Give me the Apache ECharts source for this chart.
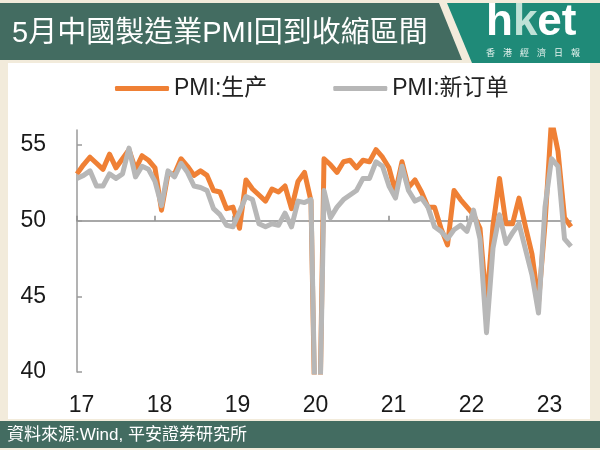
<!DOCTYPE html>
<html><head><meta charset="utf-8">
<script src="https://cdn.jsdelivr.net/npm/echarts@6/dist/echarts.min.js"></script>
<style>html,body{margin:0;padding:0;background:#f2ebdb}#c{width:600px;height:450px}</style>
</head><body><div id="c"></div>
<script>
const months = [
 '2017-01','2017-02','2017-03','2017-04','2017-05','2017-06','2017-07','2017-08','2017-09','2017-10','2017-11','2017-12',
 '2018-01','2018-02','2018-03','2018-04','2018-05','2018-06','2018-07','2018-08','2018-09','2018-10','2018-11','2018-12',
 '2019-01','2019-02','2019-03','2019-04','2019-05','2019-06','2019-07','2019-08','2019-09','2019-10','2019-11','2019-12',
 '2020-01','2020-02','2020-03','2020-04','2020-05','2020-06','2020-07','2020-08','2020-09','2020-10','2020-11','2020-12',
 '2021-01','2021-02','2021-03','2021-04','2021-05','2021-06','2021-07','2021-08','2021-09','2021-10','2021-11','2021-12',
 '2022-01','2022-02','2022-03','2022-04','2022-05','2022-06','2022-07','2022-08','2022-09','2022-10','2022-11','2022-12',
 '2023-01','2023-02','2023-03','2023-04','2023-05'
];
const production = [
 53.1,53.7,54.2,53.8,53.4,54.4,53.5,54.1,54.7,53.4,54.3,54.0,
 53.5,50.7,53.1,53.1,54.1,53.6,53.0,53.3,53.0,52.0,51.9,50.8,
 50.9,49.5,52.7,52.1,51.7,51.3,52.1,51.9,52.3,50.8,52.6,53.2,
 51.3,27.8,54.1,53.7,53.2,53.9,54.0,53.5,54.0,53.9,54.7,54.2,
 53.5,51.9,53.9,52.2,52.7,51.9,50.9,50.9,49.5,48.4,52.0,51.4,
 50.9,50.4,49.5,44.4,49.7,52.8,49.8,49.8,51.5,49.6,47.8,44.6,
 49.8,56.7,54.6,50.2,49.6
];
const newOrders = [
 52.8,53.0,53.3,52.3,52.3,53.1,52.8,53.1,54.8,52.9,53.6,53.4,
 52.6,51.0,53.3,52.9,53.8,53.2,52.3,52.2,52.0,50.8,50.4,49.7,
 49.6,50.6,51.6,51.4,49.8,49.6,49.8,49.7,50.5,49.6,51.3,51.2,
 51.4,29.3,52.0,50.2,50.9,51.4,51.7,52.0,52.8,52.8,53.9,53.6,
 52.3,51.5,53.6,52.0,51.3,51.5,50.9,49.6,49.3,48.8,49.4,49.7,
 49.3,50.7,48.8,42.6,48.2,50.4,48.5,49.2,49.8,48.1,46.4,43.9,
 50.9,54.1,53.6,48.8,48.3
];
const seriesNames = ['PMI:生产', 'PMI:新订单'];
const yTicks = [40, 45, 50, 55];
const titleText = '5月中國製造業PMI回到收縮區間';
const sourceText = '資料來源:Wind, 平安證券研究所';
const logoSub = ['香','港','經','濟','日','報'];

const FONT = '"Liberation Sans", Arial, "Noto Sans CJK SC", sans-serif';
const FONT_TC = '"Liberation Sans", Arial, "Noto Sans CJK TC", sans-serif';
const yMin = 40, yMax = 56, refLine = 50;
const grid = {left: 77, top: 130, width: 494, height: 242};
const refOffset = -grid.height * (refLine - yMin) / (yMax - yMin);
const isYearStart = (i) => i % 12 === 0;

const chart = echarts.init(document.getElementById('c'), null, {renderer: 'canvas'});
const graphic = [
  {type: 'rect', z: -5, shape: {x: 8, y: 63, width: 582, height: 356}, style: {fill: '#ffffff'}, silent: true},
  {type: 'polygon', z: -5, shape: {points: [[0,3],[439,3],[462,60],[0,60]]}, style: {fill: '#436c61'}, silent: true},
  {type: 'polygon', z: -5, shape: {points: [[447,3],[600,3],[600,63],[472,63]]}, style: {fill: '#1f8a78'}, silent: true},
  {type: 'rect', z: -5, shape: {x: 0, y: 421, width: 600, height: 27}, style: {fill: '#436c61'}, silent: true},
  {type: 'text', z: 10, x: 12, y: 34, style: {text: titleText, fill: '#ffffff', font: '29px ' + FONT_TC, verticalAlign: 'middle'}},
  {type: 'text', z: 10, x: 486, y: 45, style: {
    text: '{a|h}{b|k}{a|et}', verticalAlign: 'bottom',
    rich: {a: {fill: '#ffffff', fontSize: 44, fontWeight: 'bold', fontFamily: FONT}, b: {fill: '#bfe2d7', fontSize: 44, fontWeight: 'bold', fontFamily: FONT}}
  }},
  {type: 'text', z: 10, x: 7, y: 435, style: {text: sourceText, fill: '#ffffff', font: '17px ' + FONT_TC, verticalAlign: 'middle'}}
];
logoSub.forEach((ch, i) => {
  graphic.push({type: 'text', z: 10, x: 486 + i * 17, y: 53, style: {text: ch, fill: '#e8f4f0', font: '9px "Noto Sans CJK TC"', verticalAlign: 'middle'}});
});

chart.setOption({
  backgroundColor: '#f2ebdb',
  animation: false,
  grid: Object.assign({containLabel: false}, grid),
  legend: {
    left: 115, top: 77, padding: 0, itemWidth: 54, itemHeight: 5, itemGap: 66, icon: 'roundRect',
    data: seriesNames,
    textStyle: {fontSize: 23, color: '#222', fontFamily: FONT}
  },
  xAxis: [
    {
      type: 'category', data: months, boundaryGap: false, position: 'bottom', offset: refOffset,
      axisLine: {show: true, onZero: false, lineStyle: {color: '#8c8c8c', width: 1.5}},
      axisTick: {show: true, inside: true, length: 5, interval: isYearStart, lineStyle: {color: '#8c8c8c', width: 1.5}},
      axisLabel: {show: false}, splitLine: {show: false}
    },
    {
      type: 'category', data: months, boundaryGap: false, position: 'bottom',
      axisLine: {show: false}, axisTick: {show: false}, splitLine: {show: false},
      axisLabel: {interval: isYearStart, formatter: (v) => v.slice(2, 4), fontSize: 23, margin: 22, color: '#1a1a1a', fontFamily: FONT, padding: [0, 0, 0, 9]}
    }
  ],
  yAxis: {
    type: 'value', min: yMin, max: yMax, interval: 5,
    axisLine: {show: true, lineStyle: {color: '#9a9a9a', width: 1.5}},
    axisTick: {show: true, inside: true, length: 5, customValues: yTicks, lineStyle: {color: '#9a9a9a', width: 1.5}},
    axisLabel: {customValues: yTicks, fontSize: 23, margin: 31, color: '#1a1a1a', fontFamily: FONT},
    splitLine: {show: false}
  },
  series: [
    {name: seriesNames[0], type: 'line', data: production, symbol: 'none', clip: true,
     lineStyle: {width: 5, color: '#ef8035', join: 'round'}, itemStyle: {color: '#ef8035'}},
    {name: seriesNames[1], type: 'line', data: newOrders, symbol: 'none', clip: true,
     lineStyle: {width: 5, color: '#b7b7b7', join: 'round'}, itemStyle: {color: '#b7b7b7'}}
  ],
  graphic: graphic
});
</script></body></html>
